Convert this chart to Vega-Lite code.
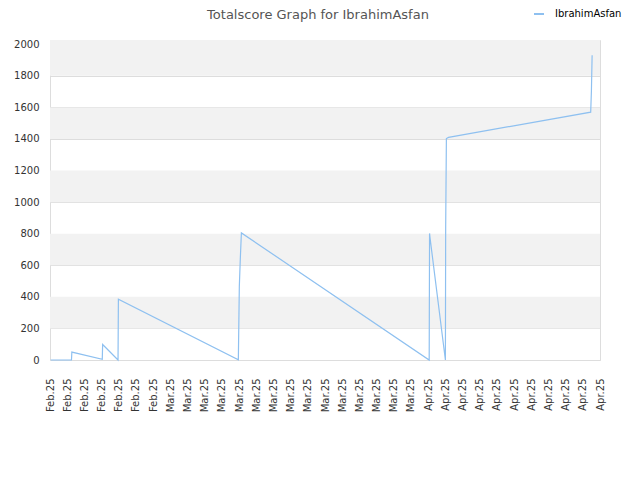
{
  "$schema": "https://vega.github.io/schema/vega-lite/v6.json",
  "autosize": {"type": "none"},
  "padding": {"left": 50, "top": 40, "right": 40, "bottom": 120},
  "width": 550,
  "height": 320,
  "title": {
    "text": "Totalscore Graph for IbrahimAsfan",
    "font": "DejaVu Sans",
    "fontSize": 13,
    "fontWeight": "normal",
    "color": "#555555",
    "anchor": "middle",
    "dx": -7,
    "dy": 14,
    "offset": 0
  },
  "config": {
    "view": {"stroke": "#dddddd", "strokeWidth": 1},
    "font": "DejaVu Sans"
  },
  "datasets": {
    "bands": [
      {"lo": 200, "hi": 400},
      {"lo": 600, "hi": 800},
      {"lo": 1000, "hi": 1200},
      {"lo": 1400, "hi": 1600},
      {"lo": 1800, "hi": 2027}
    ],
    "scores": [
      {"date": "2025-02-16T02:00", "score": 0, "player": "IbrahimAsfan"},
      {"date": "2025-02-18T12:00", "score": 0, "player": "IbrahimAsfan"},
      {"date": "2025-02-18T13:00", "score": 50, "player": "IbrahimAsfan"},
      {"date": "2025-02-22T02:00", "score": 5, "player": "IbrahimAsfan"},
      {"date": "2025-02-22T03:00", "score": 98, "player": "IbrahimAsfan"},
      {"date": "2025-02-23T22:00", "score": 0, "player": "IbrahimAsfan"},
      {"date": "2025-02-23T23:00", "score": 385, "player": "IbrahimAsfan"},
      {"date": "2025-03-09T22:00", "score": 2, "player": "IbrahimAsfan"},
      {"date": "2025-03-10T00:45", "score": 468, "player": "IbrahimAsfan"},
      {"date": "2025-03-10T03:30", "score": 643, "player": "IbrahimAsfan"},
      {"date": "2025-03-10T06:30", "score": 805, "player": "IbrahimAsfan"},
      {"date": "2025-04-01T03:00", "score": 0, "player": "IbrahimAsfan"},
      {"date": "2025-04-01T04:00", "score": 802, "player": "IbrahimAsfan"},
      {"date": "2025-04-01T05:00", "score": 780, "player": "IbrahimAsfan"},
      {"date": "2025-04-03T00:15", "score": 0, "player": "IbrahimAsfan"},
      {"date": "2025-04-03T01:00", "score": 835, "player": "IbrahimAsfan"},
      {"date": "2025-04-03T03:00", "score": 1403, "player": "IbrahimAsfan"},
      {"date": "2025-04-03T09:00", "score": 1410, "player": "IbrahimAsfan"},
      {"date": "2025-04-19T22:00", "score": 1570, "player": "IbrahimAsfan"},
      {"date": "2025-04-20T00:00", "score": 1703, "player": "IbrahimAsfan"},
      {"date": "2025-04-20T02:00", "score": 1930, "player": "IbrahimAsfan"}
    ]
  },
  "layer": [
    {
      "data": {"name": "bands"},
      "mark": {"type": "rect", "color": "#f2f2f2"},
      "encoding": {
        "y": {
          "field": "lo",
          "type": "quantitative",
          "title": null,
          "scale": {"domain": [0, 2027], "nice": false},
          "axis": {
            "values": [0, 200, 400, 600, 800, 1000, 1200, 1400, 1600, 1800, 2000],
            "format": "d",
            "labelFontSize": 10,
            "labelColor": "#333333",
            "labelPadding": 11,
            "ticks": false,
            "tickSize": 0,
            "domain": false,
            "grid": true,
            "gridColor": "#dddddd",
            "gridWidth": 1
          }
        },
        "y2": {"field": "hi"}
      }
    },
    {
      "data": {"name": "scores"},
      "mark": {"type": "line", "strokeWidth": 1.2, "interpolate": "linear"},
      "encoding": {
        "x": {
          "field": "date",
          "type": "temporal",
          "title": null,
          "scale": {
            "domain": [
              {"year": 2025, "month": 2, "date": 16},
              {"year": 2025, "month": 4, "date": 21}
            ],
            "nice": false
          },
          "axis": {
            "format": "%b.%y",
            "labelAngle": 270,
            "labelAlign": "right",
            "labelBaseline": "middle",
            "labelFontSize": 10,
            "labelColor": "#333333",
            "labelPadding": 18,
            "labelOverlap": false,
            "ticks": false,
            "tickSize": 0,
            "domain": false,
            "grid": false,
            "values": [
              {"year": 2025, "month": 2, "date": 16},
              {"year": 2025, "month": 2, "date": 18},
              {"year": 2025, "month": 2, "date": 20},
              {"year": 2025, "month": 2, "date": 22},
              {"year": 2025, "month": 2, "date": 24},
              {"year": 2025, "month": 2, "date": 26},
              {"year": 2025, "month": 2, "date": 28},
              {"year": 2025, "month": 3, "date": 2},
              {"year": 2025, "month": 3, "date": 4},
              {"year": 2025, "month": 3, "date": 6},
              {"year": 2025, "month": 3, "date": 8},
              {"year": 2025, "month": 3, "date": 10},
              {"year": 2025, "month": 3, "date": 12},
              {"year": 2025, "month": 3, "date": 14},
              {"year": 2025, "month": 3, "date": 16},
              {"year": 2025, "month": 3, "date": 18},
              {"year": 2025, "month": 3, "date": 20},
              {"year": 2025, "month": 3, "date": 22},
              {"year": 2025, "month": 3, "date": 24},
              {"year": 2025, "month": 3, "date": 26},
              {"year": 2025, "month": 3, "date": 28},
              {"year": 2025, "month": 3, "date": 30},
              {"year": 2025, "month": 4, "date": 1},
              {"year": 2025, "month": 4, "date": 3},
              {"year": 2025, "month": 4, "date": 5},
              {"year": 2025, "month": 4, "date": 7},
              {"year": 2025, "month": 4, "date": 9},
              {"year": 2025, "month": 4, "date": 11},
              {"year": 2025, "month": 4, "date": 13},
              {"year": 2025, "month": 4, "date": 15},
              {"year": 2025, "month": 4, "date": 17},
              {"year": 2025, "month": 4, "date": 19},
              {"year": 2025, "month": 4, "date": 21}
            ]
          }
        },
        "y": {
          "field": "score",
          "type": "quantitative",
          "title": null,
          "scale": {"domain": [0, 2027], "nice": false},
          "axis": {
            "values": [0, 200, 400, 600, 800, 1000, 1200, 1400, 1600, 1800, 2000],
            "format": "d",
            "labelFontSize": 10,
            "labelColor": "#333333",
            "labelPadding": 11,
            "ticks": false,
            "tickSize": 0,
            "domain": false,
            "grid": true,
            "gridColor": "#dddddd",
            "gridWidth": 1
          }
        },
        "color": {
          "field": "player",
          "type": "nominal",
          "scale": {"range": ["#8ec0f0"]},
          "legend": {
            "title": null,
            "orient": "none",
            "legendX": 483,
            "legendY": -32,
            "symbolType": "stroke",
            "symbolStrokeWidth": 2,
            "symbolSize": 100,
            "labelFontSize": 10,
            "labelColor": "#000000",
            "labelOffset": 10
          }
        }
      }
    }
  ]
}
